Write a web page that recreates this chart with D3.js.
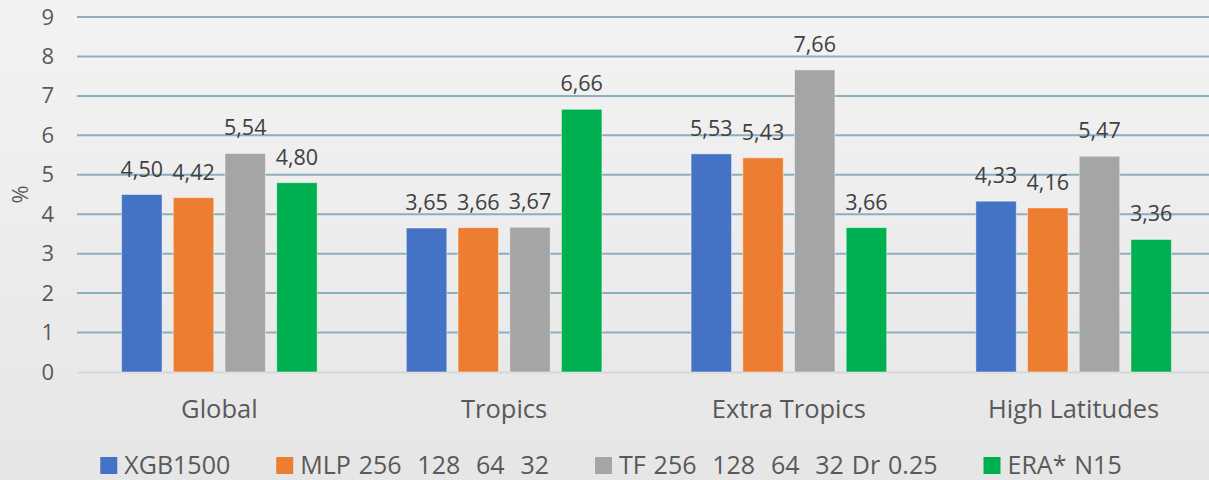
<!DOCTYPE html>
<html>
<head>
<meta charset="utf-8">
<script src="https://cdn.jsdelivr.net/npm/d3@7"></script>
<style>
  html, body { margin: 0; padding: 0; background: #ececec; }
  svg { display: block; font-family: "Open Sans", "Noto Sans", sans-serif; }
</style>
</head>
<body>
<svg id="chart" width="1209" height="480"></svg>
<script>
// Regions and model series
const categories = ["Global", "Tropics", "Extra Tropics", "High Latitudes"];
const seriesNames = ["XGB1500", "MLP 256  128  64  32", "TF 256  128  64  32 Dr 0.25", "ERA* N15"];
const xgb = [4.50, 3.65, 5.53, 4.33];
const mlp = [4.42, 3.66, 5.43, 4.16];
const tf  = [5.54, 3.67, 7.66, 5.47];
const era = [4.80, 6.66, 3.66, 3.36];
const yTicks = [0, 1, 2, 3, 4, 5, 6, 7, 8, 9];
const yLabel = "%";

const seriesValues = [xgb, mlp, tf, era];
const colors = ["#4472c4", "#ed7d31", "#a5a5a5", "#00b050"];

const W = 1209, H = 480;
const plot = { left: 77, right: 1216, top: 17, bottom: 372 };

const svg = d3.select("#chart");

// soft vertical background gradient
const defs = svg.append("defs");
const grad = defs.append("linearGradient").attr("id", "bg").attr("x1", 0).attr("y1", 0).attr("x2", 0).attr("y2", 1);
grad.append("stop").attr("offset", "0%").attr("stop-color", "#f3f3f3");
grad.append("stop").attr("offset", "100%").attr("stop-color", "#e6e6e6");
svg.append("rect").attr("width", W).attr("height", H).attr("fill", "url(#bg)");

const y = d3.scaleLinear().domain([0, 9]).range([plot.bottom, plot.top]);
const x0 = d3.scaleBand().domain(categories).range([plot.left, plot.right]).padding(0);
const x1 = d3.scaleBand().domain(d3.range(seriesNames.length))
  .range([0, x0.bandwidth()]).paddingInner(0.217).paddingOuter(0.862);

// y axis tick labels
const yAxis = d3.axisLeft(y).tickValues(yTicks).tickSize(0).tickPadding(23).tickFormat(d3.format("d"));
const gy = svg.append("g").attr("transform", `translate(${plot.left},0)`).call(yAxis);
gy.select(".domain").remove();
gy.selectAll(".tick text")
  .attr("fill", "#595959").attr("font-size", 22)
  .attr("font-family", "'Open Sans', sans-serif");

// horizontal gridlines
svg.append("g").selectAll("line")
  .data(yTicks.filter(d => d > 0))
  .join("line")
  .attr("x1", plot.left).attr("x2", W)
  .attr("y1", d => y(d)).attr("y2", d => y(d))
  .attr("stroke", "#8bafbf").attr("stroke-width", 2);

// baseline
svg.append("line")
  .attr("x1", plot.left).attr("x2", W)
  .attr("y1", y(0) + 0.5).attr("y2", y(0) + 0.5)
  .attr("stroke", "#d6d6d6").attr("stroke-width", 2);

// y axis title
svg.append("text")
  .attr("transform", `translate(19,${(plot.top + plot.bottom) / 2}) rotate(-90)`)
  .attr("text-anchor", "middle").attr("dominant-baseline", "central")
  .attr("fill", "#595959").attr("font-size", 22)
  .text(yLabel);

// bars with value labels
const fmt = v => d3.format(".2f")(v).replace(".", ",");
const groups = svg.append("g").selectAll("g")
  .data(categories)
  .join("g")
  .attr("transform", d => `translate(${x0(d)},0)`);

groups.each(function (cat, ci) {
  const g = d3.select(this);
  const rows = seriesValues.map((vals, si) => ({ si, v: vals[ci] }));
  g.selectAll("rect").data(rows).join("rect")
    .attr("x", d => x1(d.si))
    .attr("y", d => y(d.v))
    .attr("width", x1.bandwidth())
    .attr("height", d => y(0) - y(d.v))
    .attr("fill", d => colors[d.si])
    .attr("stroke", "rgba(255,255,255,0.45)").attr("stroke-width", 1);
  g.selectAll("text.val").data(rows).join("text")
    .attr("class", "val")
    .attr("x", d => x1(d.si) + x1.bandwidth() / 2)
    .attr("y", d => y(d.v) - 18)
    .attr("text-anchor", "middle")
    .attr("fill", "#404040").attr("font-size", 21.5)
    .text(d => fmt(d.v));
});

// category labels
svg.append("g").selectAll("text")
  .data(categories)
  .join("text")
  .attr("x", d => x0(d) + x0.bandwidth() / 2)
  .attr("y", 418)
  .attr("text-anchor", "middle")
  .attr("fill", "#595959").attr("font-size", 25.5)
  .text(d => d);

// legend
const legend = svg.append("g");
const items = legend.selectAll("g").data(seriesNames).join("g");
items.append("rect")
  .attr("x", 0).attr("y", 457).attr("width", 17).attr("height", 17)
  .attr("fill", (d, i) => colors[i]);
items.append("text")
  .attr("x", 24).attr("y", 474)
  .attr("fill", "#595959").attr("font-size", 25)
  .style("white-space", "pre")
  .style("word-spacing", "1.4px")
  .text(d => d);

let cursor = 0;
const gap = 46;
items.each(function () {
  const it = d3.select(this);
  it.attr("transform", `translate(${cursor},0)`);
  cursor += 24 + it.select("text").node().getComputedTextLength() + gap;
});
const legendWidth = cursor - gap;
legend.attr("transform", `translate(${611 - legendWidth / 2},0)`);
</script>
</body>
</html>
